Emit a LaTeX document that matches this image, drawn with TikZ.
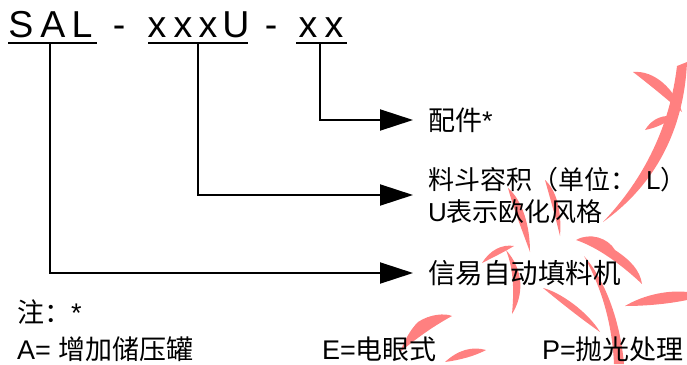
\documentclass[tikz,border=0pt]{standalone}
\usepackage{fontspec}
\setmainfont{Liberation Sans}
\newfontfamily\cjk{Noto Sans CJK SC}
\usetikzlibrary{arrows.meta}
\definecolor{wmred}{RGB}{255,128,128}
\begin{document}
\begin{tikzpicture}[x=1pt,y=-1pt,
  titlech/.style={font=\fontsize{37.5}{40}\selectfont, inner sep=0pt, anchor=base},
  lbl/.style={inner sep=0pt, anchor=west, align=left, font=\fontsize{27}{32}\selectfont},
  conn/.style={line width=2pt, -{Triangle[length=33pt,width=21pt]}, shorten >=15pt},
  uline/.style={line width=2pt},
  wm/.style={fill=wmred, draw=none}]
\useasboundingbox (0,0) rectangle (687,364);
% watermark strokes
\fill[wm] (633,72) .. controls (655,70) and (675,90) .. (682,112) .. controls (668,100) and (650,85) .. (633,72) -- cycle;
\fill[wm] (645,130) .. controls (652,118) and (665,114) .. (673,117) .. controls (665,124) and (655,128) .. (645,130) -- cycle;
\fill[wm] (687,62) .. controls (684,130) and (655,185) .. (603,222) .. controls (645,178) and (670,125) .. (677,66) -- cycle;
\fill[wm] (508,188) .. controls (522,200) and (530,225) .. (530,252) .. controls (522,230) and (514,210) .. (508,188) -- cycle;
\fill[wm] (545,180) .. controls (556,190) and (562,210) .. (560,236) .. controls (555,215) and (550,198) .. (545,180) -- cycle;
\fill[wm] (482,263) .. controls (490,250) and (502,244) .. (514,246) .. controls (504,252) and (492,258) .. (482,263) -- cycle;
\fill[wm] (506,250) .. controls (524,270) and (524,295) .. (512,314) .. controls (514,292) and (514,270) .. (506,250) -- cycle;
\fill[wm] (543,288) .. controls (560,292) and (588,312) .. (600,332) .. controls (580,318) and (560,302) .. (543,288) -- cycle;
\fill[wm] (576,240) .. controls (590,232) and (608,238) .. (615,250) .. controls (630,260) and (640,270) .. (642,284) .. controls (625,268) and (600,248) .. (576,240) -- cycle;
\fill[wm] (584,256) .. controls (605,280) and (620,320) .. (624,364) -- (614,364) .. controls (612,320) and (600,285) .. (584,256) -- cycle;
\fill[wm] (625,306) .. controls (645,294) and (670,290) .. (687,292) -- (687,300) .. controls (668,304) and (645,306) .. (625,306) -- cycle;
\fill[wm] (418,322) .. controls (430,314) and (445,313) .. (452,316) .. controls (430,328) and (412,342) .. (400,352) .. controls (405,340) and (410,330) .. (418,322) -- cycle;
\fill[wm] (445,362) .. controls (458,350) and (472,346) .. (486,350) .. controls (475,356) and (460,360) .. (445,362) -- cycle;
% title
\node[titlech] (tS) at (21,37) {S};
\node[titlech] (tA) at (53,37) {A};
\node[titlech] (tL) at (82,37) {L};
\node[titlech] (d1) at (119,37) {-};
\node[titlech] (x1) at (157,37) {x};
\node[titlech] (x2) at (183,37) {x};
\node[titlech] (x3) at (208,37) {x};
\node[titlech] (tU) at (236,37) {U};
\node[titlech] (d2) at (271,37) {-};
\node[titlech] (y1) at (308,37) {x};
\node[titlech] (y2) at (334,37) {x};
\draw[uline] (8,43) -- (97,43);
\draw[uline] (148,43) -- (248,43);
\draw[uline] (296,43) -- (347,43);
\coordinate (kS) at (50,43);
\coordinate (kU) at (198,43);
\coordinate (kX) at (320,43);
% labels
\node[lbl] (acc) at (428,120) {{\cjk 配件}*};
\node[lbl, font=\fontsize{26}{32}\selectfont] (vol) at (428,195) {{\cjk 料斗容积（单位：}\hspace{10pt}L{\cjk ）}\\U{\cjk 表示欧化风格}};
\node[lbl, font=\fontsize{27.5}{32}\selectfont] (mach) at (428,273) {\cjk 信易自动填料机};
\node[lbl] (note) at (17,312) {{\cjk 注：}*};
\node[lbl] (optA) at (17,349) {A= {\cjk 增加储压罐}};
\node[lbl] (optE) at (322,349) {E={\cjk 电眼式}};
\node[lbl] (optP) at (542,349) {P={\cjk 抛光处理}};
% connectors
\draw[conn] (kS) |- (mach.west);
\draw[conn] (kU) |- (vol.west);
\draw[conn] (kX) |- (acc.west);
\end{tikzpicture}
\end{document}
